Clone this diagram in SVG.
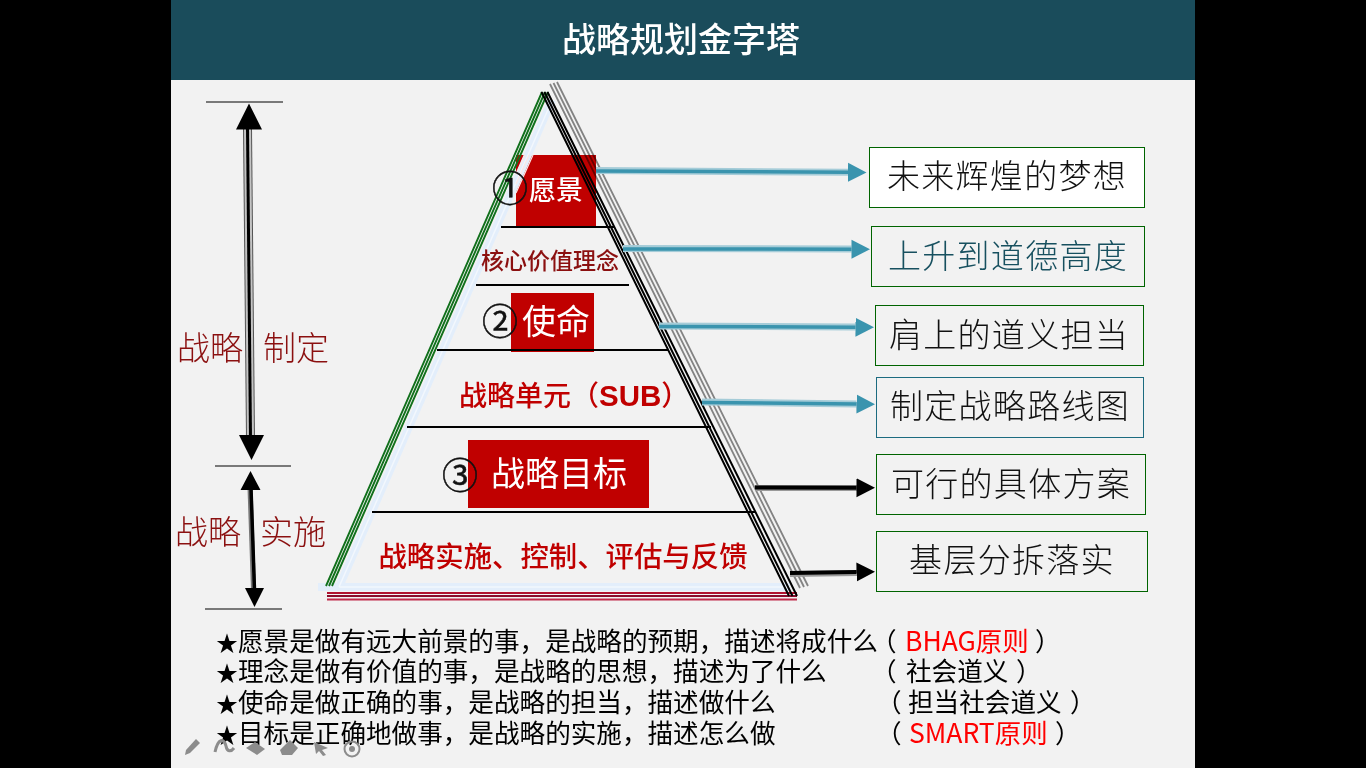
<svg xmlns="http://www.w3.org/2000/svg" width="1366" height="768" viewBox="0 0 1366 768">
<style>
text{font-family:"Noto Sans CJK SC","Liberation Sans",sans-serif}
.box{fill:#f2f2f2;stroke:#006400;stroke-width:1}
.boxb{fill:#f2f2f2;stroke:#1c6b80;stroke-width:1}
.bt{font-size:33px;fill:#111;text-anchor:middle;letter-spacing:1.300px;font-weight:300}
.rule{stroke:#000;stroke-width:2}
.thin{stroke:#000;stroke-width:1}
.red{fill:#c00000}
.side{font-size:33px;fill:#8b1010;font-weight:300}
.note{font-size:25.600px;fill:#000}
.star{font-size:22px}
.hl{fill:#f00;font-size:26.500px}
.tealb{stroke:#a5ccd8;stroke-width:7;fill:none}
.teal{stroke:#3a94ae;stroke-width:3.500;fill:none}
.grayb{stroke:#9a9a9a;stroke-width:6;fill:none}
.blk{stroke:#000;stroke-width:4;fill:none}
.tool{fill:#8c8c8c}
.num{font-size:36px;fill:#111;text-anchor:middle;stroke:#111;stroke-width:.5px}
</style>
<defs>
<marker id="ta" markerUnits="userSpaceOnUse" markerWidth="19" markerHeight="20" refX="0" refY="10" orient="auto"><path d="M0 .5L18.500 10L0 19.500Z" fill="#3a94ae"/></marker>
<marker id="ka" markerUnits="userSpaceOnUse" markerWidth="19" markerHeight="20" refX="0" refY="10" orient="auto"><path d="M0 .5L18.500 10L0 19.500Z" fill="#000"/></marker>
</defs>
<rect width="1366" height="768" fill="#000"/>
<rect x="171" y="0" width="1024" height="768" fill="#f2f2f2"/>
<g id="title"><rect x="171" y="0" width="1024" height="80" fill="#1a4c5b"/><text x="681" y="52" font-size="34" font-weight="500" fill="#fff" text-anchor="middle">战略规划金字塔</text></g>

<g id="pyramid">
<path class="red" d="M516 155H596V226H516Z"/>
<g fill="none">
<path d="M552 100L339 587M318 587H790" stroke="#e3eefb" stroke-width="8"/>
<path d="M550 105L339 587M339 587H790" stroke="#f2f7fd" stroke-width="1.500"/>
<path d="M525 155L516 175M529 155L516 184M533 155L516 193" stroke="#fbe6e6" stroke-width="1.200"/>
<path d="M542 92L326 586M545 92L329 586M548 92L332 586" stroke="#11701c" stroke-width="1.900"/>
<path d="M327 593H797" stroke="#b0122f" stroke-width="2"/>
<path d="M327 596H797" stroke="#8a0a2a" stroke-width="2"/>
<path d="M327 599.500H797" stroke="#c02848" stroke-width="2"/>
<g style="mix-blend-mode:multiply">
<path d="M550 84L800 588M553.500 83L804 587M557 82L808 586" stroke="#8a8a8a" stroke-width="1.800"/>
</g>
<path d="M541.500 92L789 596M544.500 92L792.500 596M547.500 92L797 596" stroke="#000" stroke-width="2"/>
</g>
<path d="M501 227H614M476 285H629M437 350H668M407 427H711M372 512H755" class="rule" fill="none"/>
</g>

<g id="level-vision"><text x="510" y="202" class="num">①</text><text x="556" y="200" font-size="27" font-weight="500" fill="#fff" text-anchor="middle">愿景</text></g>
<g id="level-values"><text x="550" y="269" font-size="23" font-weight="500" fill="#8b1010" text-anchor="middle">核心价值理念</text></g>
<g id="level-mission"><rect x="511" y="293" width="83" height="59" class="red"/><path d="M437 350H594" class="rule"/><text x="556" y="334" font-size="34" fill="#fff" text-anchor="middle">使命</text><text x="500" y="335" class="num">②</text></g>
<g id="level-sub"><text x="459" y="406" font-size="28" font-weight="500" fill="#c00000">战略单元（<tspan font-size="29.500" font-weight="700" style="font-family:'Liberation Sans',sans-serif">SUB</tspan>）</text></g>
<g id="level-goal"><rect x="468" y="440" width="181" height="68" class="red"/><text x="559" y="486" font-size="34" fill="#fff" text-anchor="middle">战略目标</text><text x="460" y="489" class="num">③</text></g>
<g id="level-exec"><text x="563" y="567" font-size="28.400" font-weight="500" fill="#c00000" text-anchor="middle">战略实施、控制、评估与反馈</text></g>

<g id="connectors">
<path class="tealb" d="M596 170.500L848 172.300"/><path class="teal" d="M596 171L848 172.300" marker-end="url(#ta)"/>
<path class="tealb" d="M623 248.500L851.500 249"/><path class="teal" d="M623 249L851.500 249.200" marker-end="url(#ta)"/>
<path class="tealb" d="M659 326L855.500 327"/><path class="teal" d="M659 326.500L855.500 327.200" marker-end="url(#ta)"/>
<path class="tealb" d="M702 402L856.500 404"/><path class="teal" d="M702 402.500L856.500 404" marker-end="url(#ta)"/>
<path class="grayb" d="M755 488L857 488"/><path class="blk" d="M755 487.500L856.500 487.800" marker-end="url(#ka)"/>
<path class="grayb" d="M790 574L857 573"/><path class="blk" d="M790 573L856.500 572" marker-end="url(#ka)"/>
<g fill="none">
<path d="M247.500 128L250.500 437" stroke="#555" stroke-width="9"/>
<path d="M247.500 128L250.500 437" stroke="#c4c4c4" stroke-width="7"/>
<path d="M247.500 128L250.500 437" stroke="#000" stroke-width="3"/>
<path d="M250 488L253.500 590" stroke="#777" stroke-width="5"/>
<path d="M251 488L254.500 590" stroke="#000" stroke-width="3.500"/>
</g>
<path d="M249 103.500L262 129.500H236Z M251.500 460L264 435H239Z M250.500 471L260.500 490H240.500Z M254.500 607L264 588H245Z" fill="#000"/>
<path d="M206 102H283M215 466H291M205 609H282" class="thin" fill="none"/>
</g>

<g id="side-labels">
<text x="177" y="360" class="side">战略</text><text x="263" y="360" class="side">制定</text>
<text x="175" y="544" class="side">战略</text><text x="260" y="544" class="side">实施</text>
</g>

<g id="box1"><rect class="box" style="fill:#fff" x="869.500" y="147.500" width="275" height="60"/><text class="bt" x="1007" y="188">未来辉煌的梦想</text></g>
<g id="box2"><rect class="box" x="871.500" y="226.500" width="273" height="60"/><text class="bt" x="1008" y="268" style="fill:#17505f">上升到道德高度</text></g>
<g id="box3"><rect class="box" x="875.500" y="305.500" width="268" height="60"/><text class="bt" x="1009" y="347">肩上的道义担当</text></g>
<g id="box4"><rect class="boxb" x="876.500" y="377.500" width="267" height="60"/><text class="bt" x="1010" y="418">制定战略路线图</text></g>
<g id="box5"><rect class="box" x="876.500" y="454.500" width="269" height="60"/><text class="bt" x="1011" y="496">可行的具体方案</text></g>
<g id="box6"><rect class="box" x="876.500" y="531.500" width="271" height="60"/><text class="bt" x="1012" y="572">基层分拆落实</text></g>

<g id="notes">
<text class="note" y="651"><tspan class="star" x="216">★</tspan><tspan x="238">愿景是做有远大前景的事，是战略的预期，描述将成什么</tspan><tspan x="871">（</tspan><tspan class="hl" x="905">BHAG原则</tspan><tspan x="1035">）</tspan></text>
<text class="note" y="681"><tspan class="star" x="216">★</tspan><tspan x="238">理念是做有价值的事，是战略的思想，描述为了什么</tspan><tspan x="871">（</tspan><tspan x="906">社会道义</tspan><tspan x="1016">）</tspan></text>
<text class="note" y="712"><tspan class="star" x="216">★</tspan><tspan x="238">使命是做正确的事，是战略的担当，描述做什么</tspan><tspan x="876">（</tspan><tspan x="908">担当社会道义</tspan><tspan x="1070">）</tspan></text>
<text class="note" y="743"><tspan class="star" x="216">★</tspan><tspan x="238">目标是正确地做事，是战略的实施，描述怎么做</tspan><tspan x="876">（</tspan><tspan class="hl" x="909">SMART原则</tspan><tspan x="1055">）</tspan></text>
</g>

<g id="toolbar" class="tool">
<path d="M186 750L196 739L200 743L190 753L185 755Z"/>
<path d="M215 752C218 738 224 738 226 746C227 752 231 752 234 748" fill="none" stroke="#8c8c8c" stroke-width="3"/>
<path d="M246 748L255 742L265 749L257 755Z"/>
<path d="M280 750L290 740L298 748L292 755H282Z"/>
<path d="M314 742L328 748L322 750L326 755L323 756L319 751L316 754Z"/>
<circle cx="352" cy="749" r="7.500" fill="none" stroke="#8c8c8c" stroke-width="2"/><circle cx="352" cy="749" r="3"/>
</g>
</svg>
